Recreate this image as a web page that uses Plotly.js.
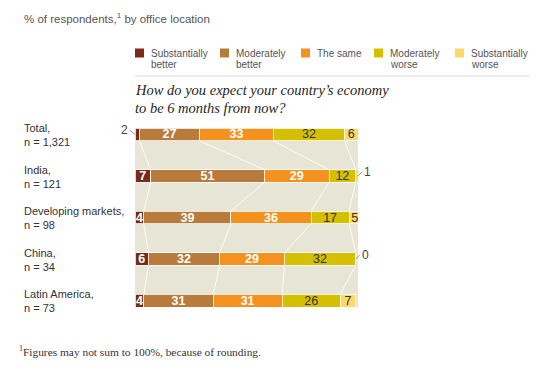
<!DOCTYPE html>
<html>
<head>
<meta charset="utf-8">
<script src="https://cdn.plot.ly/plotly-3.0.1.min.js"></script>
<style>
  html, body { margin: 0; padding: 0; background: #ffffff; }
  #chart { width: 545px; height: 379px; }
</style>
</head>
<body>
<div id="chart"></div>
<script>
// ---------------- DATA ----------------
const categories = ["Total,<br>n = 1,321", "India,<br>n = 121", "Developing markets,<br>n = 98", "China,<br>n = 34", "Latin America,<br>n = 73"];
const seriesNames = ["Substantially<br>better", "Moderately<br>better", "The same", "Moderately<br>worse", "Substantially<br>worse"];
const substantiallyBetter = [2, 7, 4, 6, 4];
const moderatelyBetter    = [27, 51, 39, 32, 31];
const theSame             = [33, 29, 36, 29, 31];
const moderatelyWorse     = [32, 12, 17, 32, 26];
const substantiallyWorse  = [6, 1, 5, 0, 7];
const titleText = "% of respondents,<sup>1</sup> by office location";
const questionLines = ["How do you expect your country\u2019s economy", "to be 6 months from now?"];
const footnoteText = "<sup>1</sup>Figures may not sum to 100%, because of rounding.";

// ---------------- STYLE ----------------
const colors = ["#7b2a19", "#b97b3b", "#f4911f", "#d5c000", "#fdd96a"];
const textColors = ["#ffffff", "#ffffff", "#ffffff", "#333333", "#333333"];
const textWeights = ["bold", "bold", "bold", "normal", "normal"];
const W = 545, H = 379;
const M = { l: 135, r: 187, t: 128, b: 72 };
const plotW = W - M.l - M.r, plotH = H - M.t - M.b;
const px = x => (x - M.l) / plotW;          // pixel -> paper x
const py = y => (H - M.b - y) / plotH;      // pixel -> paper y
const sans = "Liberation Sans, Arial, Helvetica, sans-serif";
const serif = "Liberation Serif, Georgia, serif";
const barW = 0.31;

const series = [substantiallyBetter, moderatelyBetter, theSame, moderatelyWorse, substantiallyWorse];
const yIdx = categories.map((c, i) => i);

const traces = [];

// connecting lines between cumulative boundaries
const cum = categories.map((c, i) => {
  let s = 0; return series.map(arr => (s += arr[i]));
});
for (let k = 0; k < 4; k++) {
  const xs = [], ys = [];
  for (let i = 0; i < categories.length - 1; i++) {
    xs.push(cum[i][k], cum[i + 1][k], null);
    ys.push(i + barW / 2, i + 1 - barW / 2, null);
  }
  traces.push({
    type: "scatter", mode: "lines", x: xs, y: ys,
    line: { color: "rgba(255,255,255,0.85)", width: 1 },
    hoverinfo: "skip", showlegend: false
  });
}

series.forEach((arr, s) => {
  traces.push({
    type: "bar", orientation: "h",
    x: arr, y: yIdx, width: barW,
    name: seriesNames[s],
    marker: { color: colors[s], line: { color: "#ffffff", width: 0.8 } },
    text: arr.map(v => (v >= 3 ? String(v) : "")),
    textposition: "inside", insidetextanchor: "middle",
    textangle: 0, constraintext: "none",
    textfont: { family: sans, size: 12.5, color: textColors[s], weight: textWeights[s] },
    cliponaxis: true,
    hoverinfo: "x+name", showlegend: false
  });
});

const annotations = [];
const shapes = [];

// title
annotations.push({ xref: "paper", yref: "paper", x: px(22), y: py(18), xanchor: "left", yanchor: "middle",
  text: titleText, showarrow: false, font: { family: sans, size: 11.5, color: "#555555" } });

// legend (manual)
const legX = [135, 220, 301, 374, 455];
seriesNames.forEach((n, s) => {
  shapes.push({ type: "rect", xref: "paper", yref: "paper",
    x0: px(legX[s]), x1: px(legX[s] + 9), y0: py(57.5), y1: py(48.5),
    fillcolor: colors[s], line: { width: 0 } });
  n.split("<br>").forEach((ln, j) => {
    annotations.push({ xref: "paper", yref: "paper", x: px(legX[s] + 14), y: py(53 + j * 11.5),
      xanchor: "left", yanchor: "middle", text: ln, showarrow: false,
      font: { family: sans, size: 10, color: "#555555" } });
  });
});
shapes.push({ type: "line", xref: "paper", yref: "paper", x0: px(135), x1: px(530), y0: py(76), y1: py(76),
  line: { color: "#dcdcdc", width: 1 } });

// question
questionLines.forEach((ln, j) => {
  annotations.push({ xref: "paper", yref: "paper", x: px(133), y: py(90.5 + j * 17),
    xanchor: "left", yanchor: "middle", text: "<i>" + ln + "</i>", showarrow: false,
    font: { family: serif, size: 14.5, color: "#1e1e1e" } });
});

// category labels
categories.forEach((c, i) => {
  annotations.push({ xref: "paper", yref: "y", x: px(22), y: i + 0.02, xanchor: "left", yanchor: "middle",
    text: c, align: "left", showarrow: false, font: { family: sans, size: 11, color: "#333333" } });
});

// small values outside bars with leader lines
categories.forEach((c, i) => {
  series.forEach((arr, s) => {
    if (arr[i] < 3) {
      const atLeft = s === 0;
      annotations.push({
        xref: "x", yref: "y",
        x: atLeft ? 0 : cum[i][4], y: i,
        text: String(arr[i]), showarrow: true, arrowhead: 0, arrowwidth: 0.8, arrowcolor: "#777777",
        ax: atLeft ? -5 : 4, ay: -4, xanchor: atLeft ? "right" : "left", yanchor: "middle",
        font: { family: sans, size: 12, color: "#444444" }
      });
    }
  });
});

// footnote
annotations.push({ xref: "paper", yref: "paper", x: px(17), y: py(351), xanchor: "left", yanchor: "middle",
  text: footnoteText, showarrow: false, font: { family: serif, size: 11.4, color: "#333333" } });

const layout = {
  width: W, height: H,
  margin: M,
  barmode: "stack",
  bargap: 0,
  paper_bgcolor: "#ffffff",
  plot_bgcolor: "#e7e5d6",
  showlegend: false,
  xaxis: { range: [0, 100], showgrid: false, zeroline: false, showticklabels: false, ticks: "", fixedrange: true },
  yaxis: { range: [categories.length - 1 + barW / 2, -barW / 2], showgrid: false, zeroline: false,
           showticklabels: false, ticks: "", fixedrange: true },
  annotations: annotations,
  shapes: shapes
};

Plotly.newPlot("chart", traces, layout, { displayModeBar: false, staticPlot: true });
</script>
</body>
</html>
